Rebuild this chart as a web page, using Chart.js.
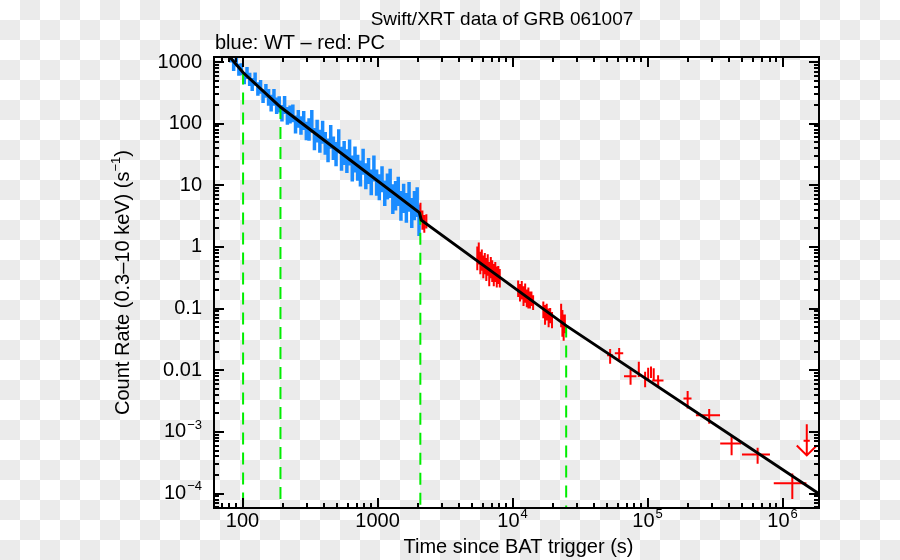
<!DOCTYPE html>
<html>
<head>
<meta charset="utf-8">
<title>Swift/XRT data of GRB 061007</title>
<script src="https://cdn.jsdelivr.net/npm/chart.js@4.4.0/dist/chart.umd.min.js"></script>
<style>
  html, body { margin: 0; padding: 0; }
  body {
    width: 900px; height: 560px; overflow: hidden;
    background: repeating-conic-gradient(#ebebeb 0 25%, #ffffff 0 50%) 0 0 / 40px 40px;
  }
  canvas { display: block; }
</style>
</head>
<body>
<canvas id="lc" width="900" height="560"></canvas>
<script>
// WT mode (blue)
const wtTime = [82,86,90,94,98,103,108,113,118,124,130,136,142,149,156,163,171,179,187,196,205,215,225,236,247,259,271,284,297,311,326,341,357,374,392,410,430,450,471,493,516,541,566,593,621,650,681,713,747,782,819,858,898,940,985,1031,1080,1131,1184,1240,1298,1360,1424,1491,1561,1635,1712,1793,1877,1966,2030];
const wtRate = [1260,912,1082,767,783,558,677,538,444,544,377,407,288,351,280,226,280,204,215,154,212,141,149,155,102,126,99,120,80.6,87.9,119,61.1,82.4,56.7,79.0,52.4,40.7,67.2,43.7,35.4,57.1,29.7,36.7,27.2,38.0,20.9,29.3,21.6,17.4,26.9,15.7,19.1,12.5,21.0,12.4,10.4,14.0,8.3,10.7,12.4,6.92,7.82,9.21,5.37,7.06,4.97,7.52,4.13,5.41,6.16,3.2];
const wtRateErr = [277,200,238,169,172,123,149,129,107,131,94,102,72,88,84,68,84,61,64,46,68,45,48,50,33,40,33,41,27,35,48,24,33,23,32,21,17,28,18,15,24,12.5,15.4,11.4,17.1,9.4,13.2,9.7,7.8,12.1,7.1,8.6,5.6,9.5,5.6,4.7,6.3,3.7,4.8,6.2,3.5,3.9,4.6,2.7,3.5,2.5,3.8,2.1,2.7,3.1,1.7];

// PC mode (red)
const pcTime = [2080,2150,2220,2300,
  5480,5620,5770,5920,6070,6230,6390,6550,6720,6900,7070,7260,7450,7640,7840,8040,
  11000,11350,11700,12050,12400,12750,13100,13450,13800,14200,
  16900,17400,17900,18500,19000,19600,
  22900,23400,23900,24400,
  52800,61600,74800,86100,95900,101000,106000,111000,119700,198000,286000,419000,653000,1180000];
const pcTimeErr = [25,25,25,30,
  70,70,75,75,80,80,80,85,85,90,90,95,95,100,100,105,
  150,150,160,160,170,170,180,180,190,190,
  230,230,240,240,250,250,
  250,250,250,250,
  2700,4400,7900,1500,1500,1500,1500,1500,11500,13500,58000,74000,153000,320000];
const pcRate = [3.9,2.9,2.5,2.7,
  0.72,0.85,0.60,0.66,0.52,0.58,0.47,0.55,0.40,0.50,0.44,0.38,0.42,0.35,0.37,0.33,
  0.22,0.19,0.21,0.17,0.19,0.155,0.16,0.145,0.15,0.13,
  0.10,0.085,0.092,0.075,0.08,0.068,
  0.085,0.065,0.055,0.06,
  0.0175,0.0189,0.0080,0.0108,0.0074,0.0090,0.0095,0.0088,0.0068,0.0035,0.00186,0.00065,0.00043,0.000147];
const pcRateErr = [1.3,1.0,0.8,0.7,
  0.30,0.33,0.24,0.25,0.21,0.22,0.19,0.21,0.17,0.19,0.17,0.15,0.15,0.13,0.12,0.11,
  0.065,0.06,0.07,0.06,0.065,0.05,0.06,0.045,0.04,0.035,
  0.03,0.03,0.028,0.025,0.022,0.02,
  0.035,0.03,0.025,0.02,
  0.0047,0.0040,0.0022,0.0030,0.0021,0.0020,0.0020,0.0020,0.0015,0.0011,0.0005,0.00023,0.000125,0.000065];

// PC upper limit
const ulTime = [1510000];
const ulTimeErr = [80000];
const ulRate = [0.00133];

// fitted broken power law
const fitTime = [80, 101, 191, 2040, 2110, 24950, 1860000];
const fitRate = [1225, 675, 186, 3.61, 2.72, 0.053, 0.000099];

// break times (green dashed)
const breakTime = [101, 191, 2075, 24950];
const breakRate = [675, 186, 3.6, 0.053];

// axes
const xMin = 61.5, xMax = 1.86e6;
const yMin = 5.84e-5, yMax = 1205;
const xTicks = [100, 1000, 1e4, 1e5, 1e6];
const xTickLabels = ['100', '1000', '10^4', '10^5', '10^6'];
const yTicks = [1000, 100, 10, 1, 0.1, 0.01, 1e-3, 1e-4];
const yTickLabels = ['1000', '100', '10', '1', '0.1', '0.01', '10^\u22123', '10^\u22124'];

const FONT = '"Liberation Sans", Arial, Helvetica, sans-serif';
const BIG = '20px ' + FONT;
const SMALL = '13px ' + FONT;

function drawLabel(ctx, label, px, py, align) {
  const [base, sup] = label.split('^');
  ctx.font = BIG;
  const bw = ctx.measureText(base).width;
  let sw = 0;
  if (sup) { ctx.font = SMALL; sw = ctx.measureText(sup).width + 1; }
  const total = bw + sw;
  const left = align === 'right' ? px - total : px - total / 2;
  ctx.textAlign = 'left';
  ctx.textBaseline = 'middle';
  ctx.font = BIG;
  ctx.fillText(base, left, py);
  if (sup) { ctx.font = SMALL; ctx.fillText(sup, left + bw + 1, py - 7); }
}

// parts: [text, isSup]
function drawRich(ctx, parts, cx, cy, font) {
  let total = 0;
  const widths = parts.map(([t, s]) => { ctx.font = s ? SMALL : (font || BIG); const w = ctx.measureText(t).width; total += w; return w; });
  let pos = cx - total / 2;
  ctx.textAlign = 'left';
  ctx.textBaseline = 'middle';
  parts.forEach(([t, s], i) => {
    ctx.font = s ? SMALL : (font || BIG);
    ctx.fillText(t, pos, s ? cy - 7 : cy);
    pos += widths[i];
  });
}

const errorBars = {
  id: 'errorBars',
  beforeDatasetsDraw(chart) {
    const { ctx, chartArea: a, scales: { x, y } } = chart;
    ctx.save();
    ctx.beginPath();
    ctx.rect(a.left, a.top, a.right - a.left, a.bottom - a.top);
    ctx.clip();

    // WT: vertical error plus time bin reaching halfway to the neighbours
    ctx.strokeStyle = '#1a8cff';
    ctx.lineWidth = 3.5;
    ctx.beginPath();
    wtTime.forEach((t, i) => {
      const px = x.getPixelForValue(t);
      const py = y.getPixelForValue(wtRate[i]);
      const lo = Math.max(wtRate[i] - wtRateErr[i], yMin);
      ctx.moveTo(px, y.getPixelForValue(wtRate[i] + wtRateErr[i]));
      ctx.lineTo(px, y.getPixelForValue(lo));
      const prev = i > 0 ? x.getPixelForValue(wtTime[i - 1]) : px - 1.5;
      const next = i < wtTime.length - 1 ? x.getPixelForValue(wtTime[i + 1]) : px + 1.5;
      ctx.moveTo((prev + px) / 2, py);
      ctx.lineTo((next + px) / 2, py);
    });
    ctx.stroke();

    // PC
    ctx.strokeStyle = '#ff0000';
    ctx.lineWidth = 2;
    ctx.beginPath();
    pcTime.forEach((t, i) => {
      const px = x.getPixelForValue(t);
      const py = y.getPixelForValue(pcRate[i]);
      const lo = Math.max(pcRate[i] - pcRateErr[i], yMin);
      ctx.moveTo(px, y.getPixelForValue(pcRate[i] + pcRateErr[i]));
      ctx.lineTo(px, y.getPixelForValue(lo));
      ctx.moveTo(x.getPixelForValue(t - pcTimeErr[i]), py);
      ctx.lineTo(x.getPixelForValue(t + pcTimeErr[i]), py);
    });
    // upper limit arrows
    ulTime.forEach((t, i) => {
      const px = x.getPixelForValue(t);
      const top = y.getPixelForValue(ulRate[i]);
      const tip = y.getPixelForValue(ulRate[i] / 3.2);
      const mid = y.getPixelForValue(ulRate[i] / 1.85);
      ctx.moveTo(px, top);
      ctx.lineTo(px, tip);
      ctx.moveTo(x.getPixelForValue(t - ulTimeErr[i]), mid);
      ctx.lineTo(x.getPixelForValue(t + ulTimeErr[i]), mid);
      ctx.moveTo(px - 10, tip - 10);
      ctx.lineTo(px, tip);
      ctx.lineTo(px + 10, tip - 10);
    });
    ctx.stroke();
    ctx.restore();
  }
};

const frame = {
  id: 'frame',
  afterDraw(chart) {
    const { ctx, chartArea: a, scales: { x, y } } = chart;
    ctx.save();
    ctx.strokeStyle = '#000';
    ctx.lineWidth = 2;
    ctx.beginPath();
    for (let d = 1; d <= 6; d++) {
      for (let m = 1; m <= 9; m++) {
        const v = m * Math.pow(10, d);
        if (v < xMin || v > xMax) continue;
        const px = Math.round(x.getPixelForValue(v));
        const len = m === 1 ? 10 : 5;
        ctx.moveTo(px, a.bottom); ctx.lineTo(px, a.bottom - len);
        ctx.moveTo(px, a.top); ctx.lineTo(px, a.top + len);
      }
    }
    for (let d = -5; d <= 3; d++) {
      for (let m = 1; m <= 9; m++) {
        const v = m * Math.pow(10, d);
        if (v < yMin || v > yMax) continue;
        const py = Math.round(y.getPixelForValue(v));
        const len = m === 1 ? 10 : 5;
        ctx.moveTo(a.left, py); ctx.lineTo(a.left + len, py);
        ctx.moveTo(a.right, py); ctx.lineTo(a.right - len, py);
      }
    }
    ctx.stroke();
    ctx.strokeRect(a.left, a.top, a.right - a.left, a.bottom - a.top);

    ctx.fillStyle = '#000';
    xTicks.forEach((v, i) => drawLabel(ctx, xTickLabels[i], x.getPixelForValue(v), a.bottom + 13, 'center'));
    yTicks.forEach((v, i) => drawLabel(ctx, yTickLabels[i], a.left - 12, y.getPixelForValue(v), 'right'));

    // titles
    drawRich(ctx, [['Swift/XRT data of GRB 061007', false]], 502, 20, '19px ' + FONT);
    ctx.font = BIG;
    ctx.textAlign = 'left';
    ctx.textBaseline = 'middle';
    ctx.fillText('blue: WT \u2013 red: PC', a.left + 1, 43);
    drawRich(ctx, [['Time since BAT trigger (s)', false]], (a.left + a.right) / 2 + 2, 547);

    ctx.save();
    ctx.translate(123, (a.top + a.bottom) / 2);
    ctx.rotate(-Math.PI / 2);
    drawRich(ctx, [['Count Rate (0.3\u201310 keV) (s', false], ['\u22121', true], [')', false]], 0, 0);
    ctx.restore();
    ctx.restore();
  }
};

const fitData = fitTime.map((t, i) => ({ x: t, y: fitRate[i] }));
const breakSets = breakTime.map((t, i) => ({
  type: 'line',
  label: 'break ' + (i + 1),
  data: [{ x: t, y: breakRate[i] }, { x: t, y: yMin }],
  borderColor: '#00ee00',
  borderWidth: 2,
  borderDash: [12, 8],
  pointRadius: 0,
  order: 1
}));

new Chart(document.getElementById('lc'), {
  type: 'scatter',
  data: {
    datasets: [
      {
        type: 'line',
        label: 'model',
        data: fitData,
        borderColor: '#000',
        borderWidth: 3,
        pointRadius: 0,
        tension: 0,
        order: 0
      },
      ...breakSets,
      { label: 'PC', data: pcTime.map((t, i) => ({ x: t, y: pcRate[i] })), pointRadius: 0, order: 2 },
      { label: 'WT', data: wtTime.map((t, i) => ({ x: t, y: wtRate[i] })), pointRadius: 0, order: 3 }
    ]
  },
  options: {
    responsive: false,
    animation: false,
    layout: { padding: { left: 214, right: 81, top: 57, bottom: 52 } },
    scales: {
      x: { type: 'logarithmic', min: xMin, max: xMax, display: false },
      y: { type: 'logarithmic', min: yMin, max: yMax, display: false }
    },
    plugins: {
      legend: { display: false },
      tooltip: { enabled: false }
    }
  },
  plugins: [errorBars, frame]
});
</script>
</body>
</html>
